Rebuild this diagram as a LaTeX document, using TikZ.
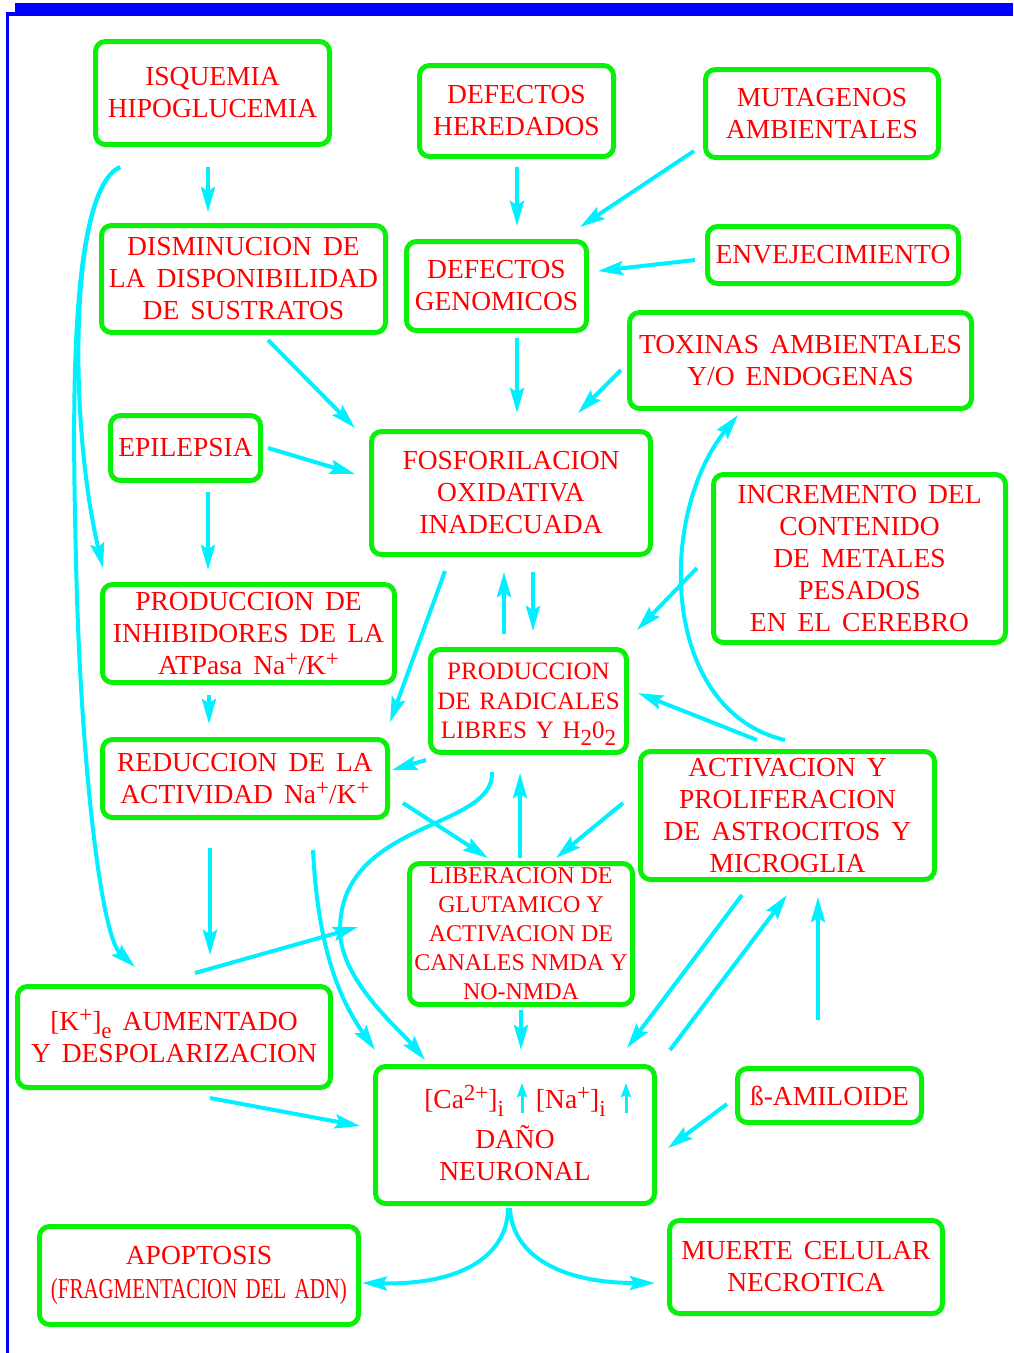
\documentclass[tikz,border=0pt]{standalone}
\usepackage{fontspec}
\usepackage{graphicx}
\setmainfont{Liberation Serif}
\usetikzlibrary{arrows.meta}

\definecolor{framblue}{RGB}{0,0,255}
\definecolor{boxgreen}{RGB}{10,240,10}
\definecolor{arrcyan}{RGB}{0,240,255}
\definecolor{txtred}{RGB}{255,0,0}

\newcommand{\boxfont}{\fontsize{27.5}{32}\selectfont\spaceskip=0.4em\relax}
\newcommand{\libfont}{\fontsize{24}{29}\selectfont\spaceskip=0.25em\relax}
\newcommand{\radfont}{\fontsize{25}{29.5}\selectfont\spaceskip=0.35em\relax}
\newcommand{\hiup}[1]{\smash{\raisebox{0.3em}{\fontsize{23}{23}\selectfont #1}}}
\newcommand{\lowdn}[1]{\smash{\raisebox{-0.28em}{\fontsize{23}{23}\selectfont #1}}}

\tikzset{
  box/.style={draw=boxgreen, line width=5pt, rounded corners=10pt, inner sep=0pt, outer sep=0pt,
    align=center, text=txtred, font=\boxfont},
  arr/.style={draw=arrcyan, line width=4pt, -{Stealth[length=25pt,width=14pt,inset=4pt]}},
  tinyarr/.style={draw=arrcyan, line width=3pt, -{Stealth[length=14pt,width=10pt,inset=2pt]}},
}

\begin{document}
\begin{tikzpicture}[x=1pt,y=-1pt]
\useasboundingbox (0,0) rectangle (1013,1353);

\fill[framblue] (15,3) rectangle (1013,15.5);
\fill[framblue] (6.3,12.3) rectangle (9,1353);
\fill[framblue] (6.3,12.3) rectangle (15,15.5);


\node[box, minimum width=234, minimum height=103] (isq) at (212.5,93) {ISQUEMIA\\HIPOGLUCEMIA};
\node[box, minimum width=194, minimum height=91] (her) at (516.5,111) {DEFECTOS\\HEREDADOS};
\node[box, minimum width=233, minimum height=88] (mut) at (822,113.5) {MUTAGENOS\\AMBIENTALES};
\node[box, minimum width=284, minimum height=107] (dism) at (243.5,279) {DISMINUCION DE\\LA DISPONIBILIDAD\\DE SUSTRATOS};
\node[box, minimum width=180, minimum height=89] (gen) at (496.5,286) {DEFECTOS\\GENOMICOS};
\node[box, minimum width=251, minimum height=57] (env) at (833,255) {ENVEJECIMIENTO};
\node[box, minimum width=342, minimum height=96] (tox) at (800.5,360.5) {TOXINAS AMBIENTALES\\Y/O ENDOGENAS};
\node[box, minimum width=150, minimum height=65] (epi) at (185.5,448) {EPILEPSIA};
\node[box, minimum width=279, minimum height=123] (fos) at (511,493) {FOSFORILACION\\OXIDATIVA\\INADECUADA};
\node[box, minimum width=292, minimum height=168] (inc) at (859.5,558.5) {INCREMENTO DEL\\CONTENIDO\\DE METALES\\PESADOS\\EN EL CEREBRO};
\node[box, minimum width=292, minimum height=98] (inh) at (248.5,633.5) {PRODUCCION DE\\INHIBIDORES DE LA\\ATPasa Na\hiup{+}/K\hiup{+}};
\node[box, font=\radfont, minimum width=196, minimum height=103] (rad) at (528.5,701) {PRODUCCION\\DE RADICALES\\LIBRES Y H\lowdn{2}0\lowdn{2}};
\node[box, minimum width=285, minimum height=78] (red) at (245,778.5) {REDUCCION DE LA\\ACTIVIDAD Na\hiup{+}/K\hiup{+}};
\node[box, minimum width=294, minimum height=128] (act) at (787.5,815.5) {ACTIVACION Y\\PROLIFERACION\\DE ASTROCITOS Y\\MICROGLIA};
\node[box, font=\libfont, minimum width=223, minimum height=141] (lib) at (521,934) {LIBERACION DE\\GLUTAMICO Y\\ACTIVACION DE\\CANALES NMDA Y\\NO-NMDA};
\node[box, minimum width=313, minimum height=101] (kpl) at (174,1037) {[K\hiup{+}]\lowdn{e} AUMENTADO\\Y DESPOLARIZACION};
\node[box, minimum width=279, minimum height=137] (dano) at (515,1135) {[Ca\hiup{2+}]\lowdn{i}\hspace{32pt}[Na\hiup{+}]\lowdn{i}\hspace{16pt}\\[8pt]DAÑO\\NEURONAL};
\node[box, minimum width=184, minimum height=54] (ami) at (829.5,1095.5) {ß-AMILOIDE};
\node[box, minimum width=319, minimum height=98] (apo) at (199,1275.5) {APOPTOSIS\\[2pt]\scalebox{0.76}[1.05]{(FRAGMENTACION DEL ADN)}};
\node[box, minimum width=273, minimum height=93] (mue) at (806,1267) {MUERTE CELULAR\\NECROTICA};


\draw[tinyarr] ([shift={(7,-22)}]dano.center) -- ([shift={(7,-52)}]dano.center);
\draw[tinyarr] ([shift={(111,-22)}]dano.center) -- ([shift={(111,-52)}]dano.center);


\draw[arr] ([shift={(-4.5,22.5)}]isq.south) -- ([shift={(-35.5,-13.5)}]dism.north);
\draw[arr] ([shift={(0.5,10.5)}]her.south) -- ([shift={(20.5,-15.5)}]gen.north);
\draw[arr] ([shift={(-11.5,-6.5)}]mut.south west) -- ([shift={(-6.5,-14.5)}]gen.north east);
\draw[arr] ([shift={(-12.5,5)}]env.west) -- ([shift={(11.5,-15)}]gen.east);
\draw[arr] ([shift={(20.5,7.5)}]gen.south) -- ([shift={(6,-18.5)}]fos.north);
\draw[arr] ([shift={(-8.5,9.5)}]tox.west) -- ([shift={(67,-18.5)}]fos.north);
\draw[arr] ([shift={(24.5,7.5)}]dism.south) -- ([shift={(-16.5,-3.5)}]fos.north west);
\draw[arr] ([shift={(7.5,0)}]epi.east) -- ([shift={(-16.5,-19)}]fos.west);
\draw[arr] ([shift={(22.5,11.5)}]epi.south) -- ([shift={(-40.5,-14.5)}]inh.north);

\draw[arr] ([shift={(-66,16.5)}]fos.south) -- ([shift={(2.5,-17.5)}]red.north east);
\draw[arr] ([shift={(-24.5,-15.5)}]rad.north) -- ([shift={(-7,17.5)}]fos.south);
\draw[arr] ([shift={(22,17.5)}]fos.south) -- ([shift={(4.5,-18.5)}]rad.north);
\draw[arr] ([shift={(-16.5,9.5)}]inc.west) -- ([shift={(10.5,-19.5)}]rad.north east);
\draw[arr] ([shift={(-39.5,12.5)}]inh.south) -- ([shift={(-36,-15.5)}]red.north);
\draw[arr] ([shift={(-4.5,7.5)}]rad.south west) -- ([shift={(4.5,-8.5)}]red.east);
\draw[arr] ([shift={(-30.5,-11.5)}]act.north) -- ([shift={(11.5,-8)}]rad.east);
\draw[arr] ([shift={(-2.5,-11.5)}]act.north) .. controls (660,711) and (657,515) .. ([shift={(-62.5,6.5)}]tox.south);

\draw[arr] ([shift={(15.5,24.5)}]red.east) -- ([shift={(-33,-5.5)}]lib.north);
\draw[arr] ([shift={(-17.5,-12.5)}]act.west) -- ([shift={(35,-5.5)}]lib.north);
\draw[arr] ([shift={(-1,-5.5)}]lib.north) -- ([shift={(-8.5,20.5)}]rad.south);
\draw[arr] ([shift={(-36.5,19.5)}]rad.south) .. controls (495,830) and (340,820) .. (340,930)
  .. controls (340,980) and (400,1030) .. ([shift={(-90,-6.5)}]dano.north);
\draw[arr] ([shift={(-35,30.5)}]red.south) -- ([shift={(36,-31.5)}]kpl.north);

\draw[arr] ([shift={(24.5,22.5)}]isq.south west) .. controls (70,190) and (68,420) .. ([shift={(0.5,-16.5)}]inh.north west);
\draw[arr] ([shift={(24.5,22.5)}]isq.south west) .. controls (70,190) and (72,400) .. (76,560)
  .. controls (80,750) and (100,935) .. ([shift={(-39,-19.5)}]kpl.north);
\draw[arr] ([shift={(21,-13.5)}]kpl.north) -- ([shift={(-51.5,-7)}]lib.west);
\draw[arr] ([shift={(68,32.5)}]red.south) .. controls (318,950) and (340,1000) .. ([shift={(-0.5,-16.5)}]dano.north west);
\draw[arr] ([shift={(0,5.5)}]lib.south) -- ([shift={(6,-16.5)}]dano.north);
\draw[arr] ([shift={(36,10.5)}]kpl.south) -- ([shift={(-15.5,-9)}]dano.west);

\draw[arr] ([shift={(-45.5,15.5)}]act.south) -- ([shift={(-27.5,-18.5)}]dano.north east);
\draw[arr] ([shift={(15.5,-16.5)}]dano.north east) -- ([shift={(-0.5,15.5)}]act.south);
\draw[arr] ([shift={(-11.5,-48.5)}]ami.north) -- ([shift={(30.5,17.5)}]act.south);
\draw[arr] ([shift={(-10.5,8.5)}]ami.west) -- ([shift={(13.5,13)}]dano.east);

\draw[arr] ([shift={(-7,4.5)}]dano.south) .. controls (508,1250) and (470,1285) .. ([shift={(3.5,7.5)}]apo.east);
\draw[arr] ([shift={(-5,4.5)}]dano.south) .. controls (512,1255) and (560,1283) .. ([shift={(-14.5,16)}]mue.west);
\end{tikzpicture}
\end{document}
